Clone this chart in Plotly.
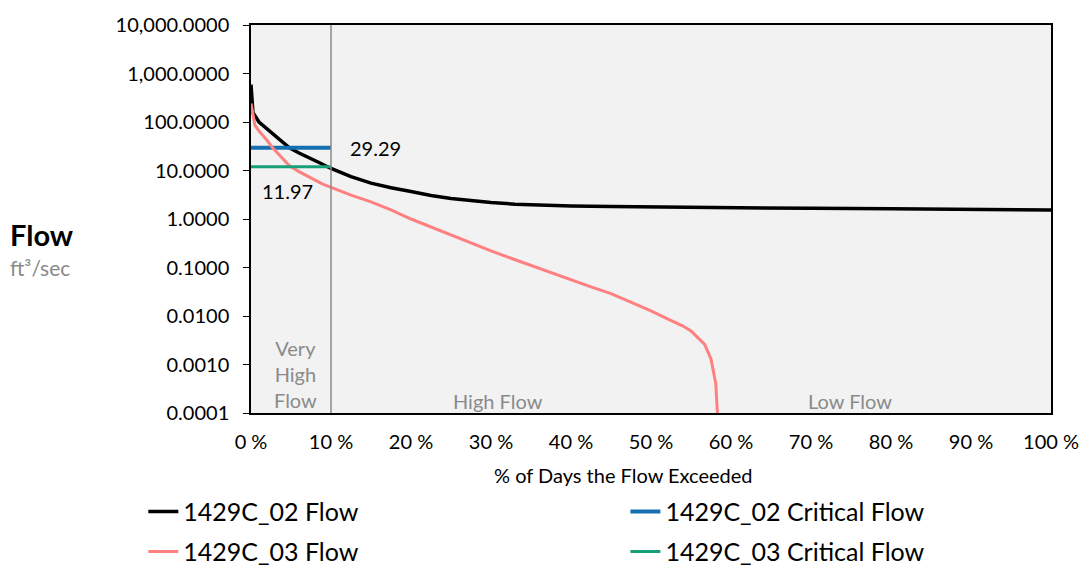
import numpy as np
import plotly.graph_objects as go

# Flow duration curves (% of days exceeded vs. flow in ft3/sec)
pct_02 = [0, 0.25, 1, 2, 3, 4, 4.8, 6, 7, 8.5, 10, 12.5, 15, 17.5, 20, 22.5, 25, 27.5, 30, 33, 36,
          40, 45, 50, 58, 70, 80, 90, 100]
flow_02 = [590, 155, 100, 72, 52, 38, 29.3, 23, 19.5, 14.6, 11.0, 7.5, 5.5, 4.4, 3.7, 3.05, 2.65, 2.4,
           2.2, 2.02, 1.92, 1.86, 1.8, 1.76, 1.70, 1.66, 1.62, 1.58, 1.53]

pct_03 = [0, 0.5, 1, 2, 2.7, 4, 4.8, 6, 7, 8.9, 10, 12.5, 15, 17.5, 20, 22.5, 25, 27.5, 30, 32.5, 35,
          37.5, 40, 42.5, 45, 47.5, 50, 52, 54, 55, 55.8, 56.7, 57.5, 58.1, 58.3, 58.4]
flow_03 = [240, 85, 65, 42, 29.3, 17, 12.5, 9.5, 7.8, 5.3, 4.5, 3.1, 2.25, 1.55, 1.0, 0.68, 0.46, 0.32,
           0.22, 0.155, 0.11, 0.078, 0.055, 0.040, 0.029, 0.0195, 0.0128, 0.0088, 0.0062, 0.0049,
           0.0036, 0.0026, 0.0013, 0.0004, 0.0001, 0.00001]

# Critical flows, drawn across the very-high-flow zone
crit_range = [0, 10]
crit_02 = 29.29
crit_03 = 11.97

x_ticks = [0, 10, 20, 30, 40, 50, 60, 70, 80, 90, 100]
y_ticks = [0.0001, 0.001, 0.01, 0.1, 1, 10, 100, 1000, 10000]

FONT = "Lato"

fig = go.Figure()
fig.add_trace(go.Scatter(x=pct_02, y=flow_02, mode="lines", name="1429C_02 Flow", showlegend=True,
                         line=dict(color="#000000", width=3.5), legend="legend"))
fig.add_trace(go.Scatter(x=crit_range, y=[crit_02, crit_02], mode="lines", name="1429C_02 Critical Flow",
                         showlegend=True, line=dict(color="#1670b0", width=4), legend="legend2"))
fig.add_trace(go.Scatter(x=pct_03, y=flow_03, mode="lines", name="1429C_03 Flow", showlegend=True,
                         line=dict(color="#ff8080", width=3), legend="legend3"))
fig.add_trace(go.Scatter(x=crit_range, y=[crit_03, crit_03], mode="lines", name="1429C_03 Critical Flow",
                         showlegend=True, line=dict(color="#17a077", width=3), legend="legend4"))

grey = "#8a8a8a"
annotations = [
    dict(x=12.1, y=np.log10(crit_02), xref="x", yref="y", text=f"{crit_02:.2f}", showarrow=False,
         xanchor="left", yanchor="middle", font=dict(size=20, color="#000000")),
    dict(x=4.5, y=np.log10(crit_03), xref="x", yref="y", text=f"{crit_03:.2f}", showarrow=False,
         xanchor="center", yanchor="middle", yshift=-24, font=dict(size=20, color="#000000")),
    dict(x=5.5, y=0.1, xref="x", yref="paper", text="Very<br>High<br>Flow", showarrow=False,
         xanchor="center", yanchor="middle", font=dict(size=20, color=grey)),
    dict(x=30.9, y=0.03, xref="x", yref="paper", text="High Flow", showarrow=False,
         xanchor="center", yanchor="middle", font=dict(size=20, color=grey)),
    dict(x=74.9, y=0.03, xref="x", yref="paper", text="Low Flow", showarrow=False,
         xanchor="center", yanchor="middle", font=dict(size=20, color=grey)),
    dict(x=-0.304, y=0.46, xref="paper", yref="paper", text="<b>Flow</b>", showarrow=False,
         xanchor="left", yanchor="middle", font=dict(size=29, color="#000000")),
    dict(x=-0.304, y=0.376, xref="paper", yref="paper", text="ft³/sec", showarrow=False,
         xanchor="left", yanchor="middle", font=dict(size=21, color=grey)),
    dict(x=0.466, y=-0.159, xref="paper", yref="paper", text="% of Days the Flow Exceeded", showarrow=False,
         xanchor="center", yanchor="middle", font=dict(size=20, color="#000000")),
]


def legend_box(x, y):
    return dict(orientation="h", x=x, y=y, xanchor="left", yanchor="top", itemwidth=30,
                font=dict(size=25), bgcolor="rgba(0,0,0,0)", visible=True)


fig.update_layout(
    width=1091, height=587,
    margin=dict(l=251, r=30, t=20, b=157),
    showlegend=True,
    paper_bgcolor="#ffffff",
    plot_bgcolor="#f2f2f2",
    font=dict(family=FONT, color="#000000"),
    annotations=annotations,
    shapes=[dict(type="line", xref="x", yref="paper", x0=10, x1=10, y0=0, y1=1,
                 line=dict(color=grey, width=1.5))],
    legend=legend_box(-0.1346, -0.1955),
    legend2=legend_box(0.468, -0.1955),
    legend3=legend_box(-0.1346, -0.2985),
    legend4=legend_box(0.468, -0.2985),
)

fig.update_xaxes(range=[0, 100], tickvals=x_ticks, ticktext=[f"{v} %" for v in x_ticks],
                 showgrid=False, zeroline=False, showline=True, linecolor="#000000", linewidth=1.5,
                 mirror=True, ticks="", tickfont=dict(size=20), ticklabelstandoff=10)
fig.update_yaxes(type="log", range=[-4, 4], tickvals=y_ticks, tickformat=",.4f",
                 showgrid=False, zeroline=False, showline=True, linecolor="#000000", linewidth=1.5,
                 mirror=True, ticks="outside", ticklen=6, tickcolor="#000000",
                 ticklabelstandoff=10, tickfont=dict(size=20))

fig.write_html("out.html")
